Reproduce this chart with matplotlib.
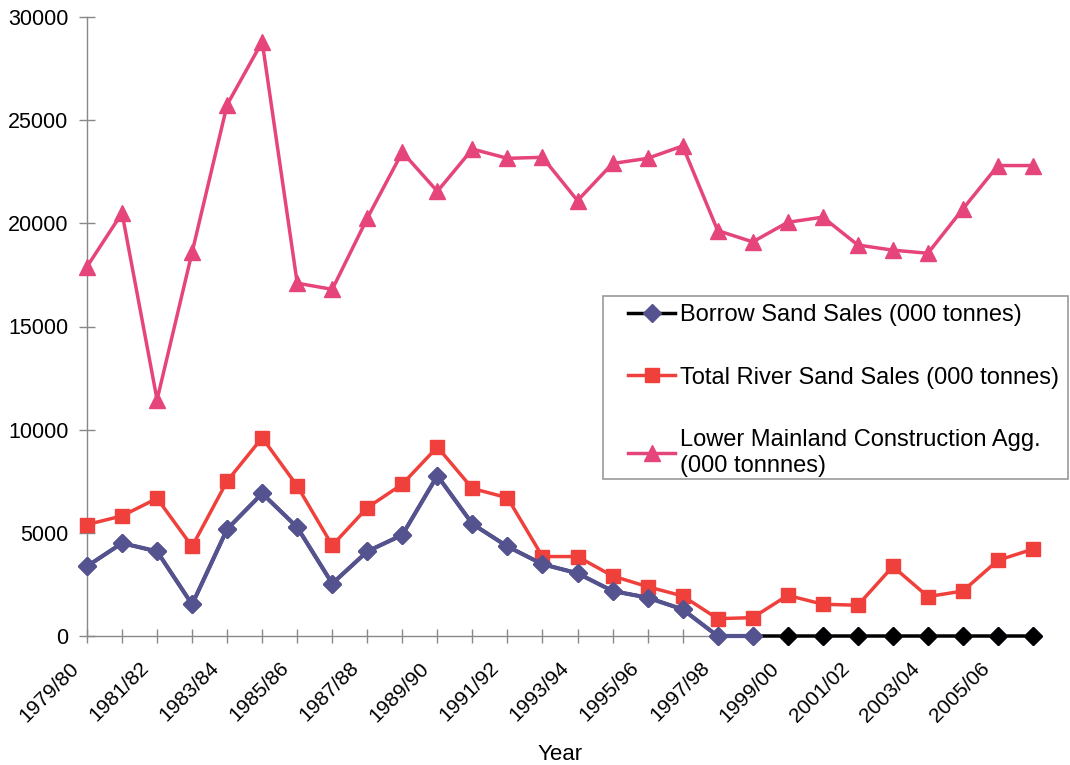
import matplotlib
matplotlib.use('Agg')
import matplotlib.pyplot as plt
from matplotlib.patches import Rectangle
from matplotlib.transforms import ScaledTranslation

plt.rcParams['font.family'] = ['Liberation Sans', 'DejaVu Sans']

anos = ['1979/80', '1980/81', '1981/82', '1982/83', '1983/84', '1984/85', '1985/86',
        '1986/87', '1987/88', '1988/89', '1989/90', '1990/91', '1991/92', '1992/93',
        '1993/94', '1994/95', '1995/96', '1996/97', '1997/98', '1998/99', '1999/00',
        '2000/01', '2001/02', '2002/03', '2003/04', '2004/05', '2005/06', '2006/07']

borrow = [3380, 4500, 4100, 1530, 5180, 6910, 5270, 2540, 4100, 4900, 7770, 5430, 4340,
          3480, 3040, 2180, 1860, 1290, 0, 0, 0, 0, 0, 0, 0, 0, 0, 0]
river = [5400, 5820, 6670, 4340, 7510, 9610, 7270, 4390, 6220, 7360, 9160, 7150, 6700,
         3850, 3850, 2910, 2390, 1940, 840, 890, 1970, 1540, 1490, 3370, 1910, 2180, 3670, 4210]
lower_mainland = [17900, 20500, 11450, 18600, 25750, 28800, 17100, 16800, 20250, 23450,
                  21550, 23600, 23150, 23200, 21100, 22900, 23150, 23750, 19650, 19100,
                  20050, 20300, 18950, 18700, 18550, 20700, 22800, 22800]

roxo = '#55538f'
vermelho = '#f0403c'
rosa = '#e6457c'

x = list(range(len(anos)))
corte = 20  # a partir daqui a serie aparece preta

W, H = 1070, 765
fig = plt.figure(figsize=(W / 100, H / 100), dpi=100)
ax = fig.add_axes([87 / W, 1 - 636 / H, (1033 - 87) / W, (636 - 17) / H])

ax.plot(x, borrow, '-', color='black', lw=2.5, marker='D', ms=9,
        mfc=roxo, mec=roxo, label='Borrow Sand Sales (000 tonnes)', clip_on=False, zorder=3)
ax.plot(x[:corte], borrow[:corte], '-', color=roxo, lw=3, marker='D', ms=9,
        mfc=roxo, mec=roxo, clip_on=False, zorder=4)
ax.plot(x[corte:], borrow[corte:], 'D', color='black', ms=9.5, clip_on=False, zorder=4)
ax.plot(x, river, '-', color=vermelho, lw=2.5, marker='s', ms=10,
        label='Total River Sand Sales (000 tonnes)', clip_on=False, zorder=3)
ax.plot(x, lower_mainland, '-', color=rosa, lw=2.5, marker='^', ms=11,
        label='Lower Mainland Construction Agg.\n(000 tonnnes)', clip_on=False, zorder=3)

ax.set_xlim(0, len(anos) - 1)
ax.set_ylim(0, 30000)
ax.set_yticks(range(0, 30001, 5000))
ax.set_xticks(x)
ax.set_xticklabels([a if i % 2 == 0 else '' for i, a in enumerate(anos)],
                   rotation=45, ha='right', rotation_mode='anchor', fontsize=15)
ax.tick_params(axis='y', labelsize=15.5, direction='inout', length=11, color='#888888', width=1, pad=8)
ax.tick_params(axis='x', direction='inout', length=10, color='#888888', width=1, pad=4)

desloc = ScaledTranslation(-18 / 100, -10 / 100, fig.dpi_scale_trans)
for rotulo in ax.get_xticklabels():
    rotulo.set_transform(rotulo.get_transform() + desloc)

for lado in ['top', 'right']:
    ax.spines[lado].set_visible(False)
for lado in ['left', 'bottom']:
    ax.spines[lado].set_color('#888888')
    ax.spines[lado].set_linewidth(1)

ax.set_xlabel('Year', fontsize=16)
ax.xaxis.set_label_coords(0.5, -0.175)

leg = ax.legend(loc='upper left', bbox_to_anchor=(628 / W, 1 - 304 / H), bbox_transform=fig.transFigure,
                fontsize=17, frameon=False, labelspacing=1.72, handlelength=2.0,
                handletextpad=0.2, borderpad=0, borderaxespad=0)
fig.patches.append(Rectangle((603 / W, 1 - 479 / H), (1068 - 603) / W, (479 - 296) / H,
                             transform=fig.transFigure, fill=False, edgecolor='#999999', lw=1.2))

plt.savefig('out.png', dpi=100)
